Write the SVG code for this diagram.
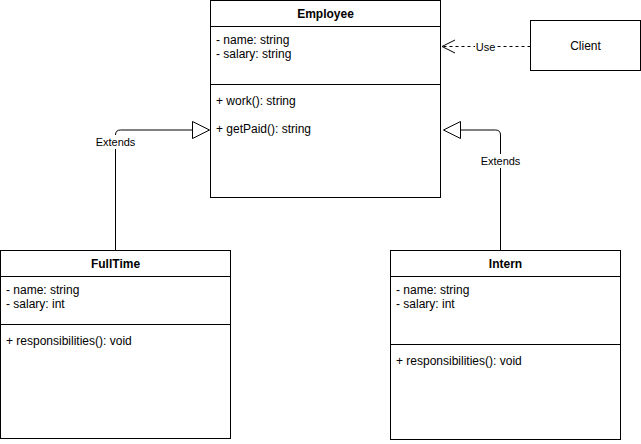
<svg xmlns="http://www.w3.org/2000/svg" width="641" height="444" viewBox="0 0 641 444">
<style>
  .box{fill:#fff;stroke:#000;stroke-width:1}
  .ln{fill:none;stroke:#000;stroke-width:1}
  .t{font-family:"Liberation Sans",Arial,sans-serif;font-size:12px;fill:#000}
  .b{font-weight:bold;text-anchor:middle}
  .c{text-anchor:middle}
  .lbl{font-family:"Liberation Sans",Arial,sans-serif;font-size:11px;fill:#000;text-anchor:middle}
</style>
<rect width="641" height="444" fill="#fff"/>
<g id="connectors">
  <path class="ln" d="M530.5 46.5 L442 46.5" stroke-dasharray="3 3"/>
  <path class="ln" d="M455 40 L442 46.5 L455 53"/>
  <rect x="475" y="39" width="21" height="14" fill="#fff"/>
  <text class="lbl" x="485.5" y="50.5">Use</text>
  <path class="ln" d="M115.5 250 L115.5 135 Q115.5 130 120.5 130 L192.5 130"/>
  <path class="ln" fill="#fff" d="M192.5 121.5 L209.5 130 L192.5 138.5 Z" style="fill:#fff"/>
  <rect x="95" y="135" width="41" height="14" fill="#fff"/>
  <text class="lbl" x="115.5" y="145.5">Extends</text>
  <path class="ln" d="M500.5 250 L500.5 135 Q500.5 130 495.5 130 L460.5 130"/>
  <path class="ln" d="M460.5 121.5 L443.5 130 L460.5 138.5 Z" style="fill:#fff"/>
  <rect x="480" y="154" width="41" height="14" fill="#fff"/>
  <text class="lbl" x="500.5" y="164.5">Extends</text>
</g>
<g id="employee">
  <rect class="box" x="210.5" y="0.5" width="230" height="197"/>
  <line class="ln" x1="210.5" y1="26.5" x2="440.5" y2="26.5"/>
  <line class="ln" x1="210.5" y1="84.5" x2="440.5" y2="84.5"/>
  <text class="t b" x="325.5" y="18">Employee</text>
  <text class="t" x="216" y="44">- name: string</text>
  <text class="t" x="216" y="58">- salary: string</text>
  <text class="t" x="216" y="105">+ work(): string</text>
  <text class="t" x="216" y="133">+ getPaid(): string</text>
</g>
<g id="client">
  <rect class="box" x="530.5" y="20.5" width="110" height="50"/>
  <text class="t c" x="585.5" y="50">Client</text>
</g>
<g id="fulltime">
  <rect class="box" x="0.5" y="250.5" width="230" height="188"/>
  <line class="ln" x1="0.5" y1="276.5" x2="230.5" y2="276.5"/>
  <line class="ln" x1="0.5" y1="324.5" x2="230.5" y2="324.5"/>
  <text class="t b" x="115.5" y="268">FullTime</text>
  <text class="t" x="6" y="294">- name: string</text>
  <text class="t" x="6" y="308">- salary: int</text>
  <text class="t" x="6" y="345">+ responsibilities(): void</text>
</g>
<g id="intern">
  <rect class="box" x="390.5" y="250.5" width="230" height="189"/>
  <line class="ln" x1="390.5" y1="276.5" x2="620.5" y2="276.5"/>
  <line class="ln" x1="390.5" y1="344.5" x2="620.5" y2="344.5"/>
  <text class="t b" x="505.5" y="268">Intern</text>
  <text class="t" x="396" y="294">- name: string</text>
  <text class="t" x="396" y="308">- salary: int</text>
  <text class="t" x="396" y="365">+ responsibilities(): void</text>
</g>
</svg>
